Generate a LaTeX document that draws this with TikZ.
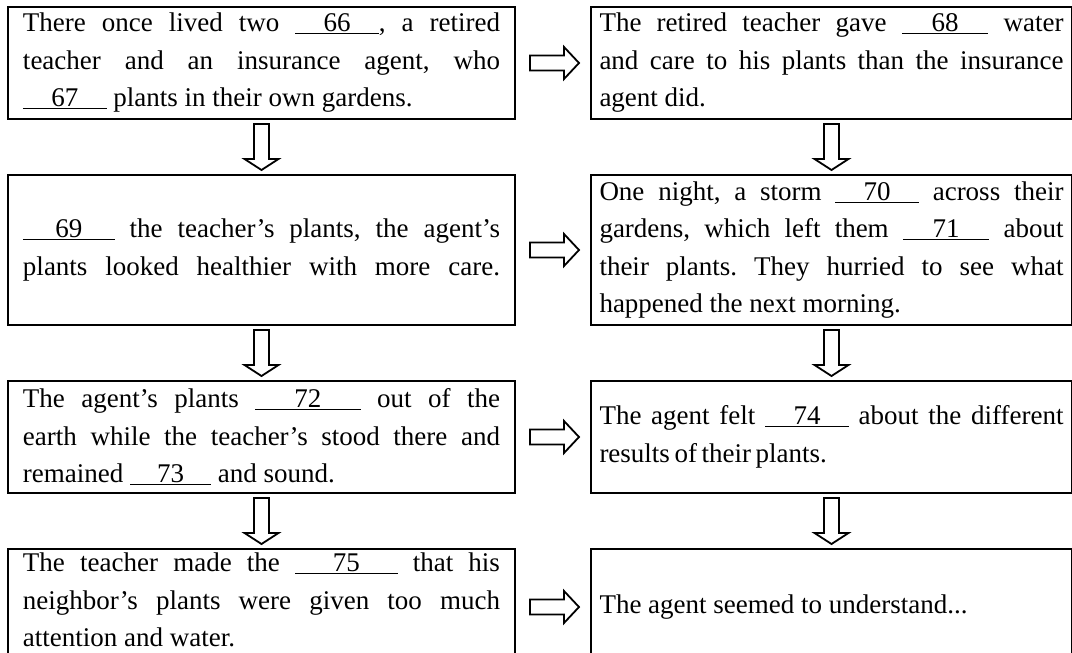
\documentclass[tikz,border=0pt]{standalone}
\usepackage{fontspec}
\setmainfont{Liberation Serif}
\usetikzlibrary{positioning,calc}
\newcommand{\storyfont}{\fontsize{27}{37.5}\selectfont\parindent=0pt\hyphenpenalty=10000\frenchspacing\relax}
\newcommand{\blankno}[2][3.1em]{\underline{\makebox[#1]{#2}}}

\begin{document}
\begin{tikzpicture}[
    node distance=54pt and 74pt,
    lbox/.style={rectangle, draw=black, line width=2pt, align=justify, text width=477pt, inner xsep=15pt, font=\storyfont},
    rbox/.style={rectangle, draw=black, line width=2pt, align=justify, text width=464pt, inner xsep=8.5pt, font=\storyfont},
    downarr/.style={draw, line width=1.8pt, to path={let \p1=(\tikztostart.south), \p2=(\tikztotarget.north) in
        (\x1-7.5pt,\y1-4pt) -- (\x1-7.5pt,\y2+15pt) -- (\x1-17pt,\y2+15pt) -- (\x1,\y2+4pt)
        -- (\x1+17pt,\y2+15pt) -- (\x1+7.5pt,\y2+15pt) -- (\x1+7.5pt,\y1-4pt) -- cycle}},
    rightarr/.style={draw, line width=1.8pt, to path={let \p1=(\tikztostart.east), \p2=(\tikztotarget.west) in
        (\x1+14pt,\y1+7.5pt) -- (\x2-26pt,\y1+7.5pt) -- (\x2-26pt,\y1+16pt) -- (\x2-11pt,\y1)
        -- (\x2-26pt,\y1-16pt) -- (\x2-26pt,\y1-7.5pt) -- (\x1+14pt,\y1-7.5pt) -- cycle}}
]
\useasboundingbox (0,0) rectangle (1072pt,-653pt);

\node[lbox, minimum height=112pt, anchor=north west] (intro) at (7pt,-6pt) {There once lived two \blankno{66}, a retired\linebreak teacher and an insurance agent, who\linebreak \blankno{67} plants in their own gardens.};
\node[rbox, minimum height=112pt, right=of intro] (water) {The retired teacher gave \blankno[3.2em]{68} water\linebreak and care to his plants than the insurance\linebreak agent did.};
\node[lbox, minimum height=150pt, below=of intro] (care) {\blankno[3.4em]{69} the teacher's plants, the agent's\linebreak \makebox[\linewidth][s]{plants looked healthier with more care.}};
\node[rbox, minimum height=150pt, right=of care] (storm) {One night, a storm \blankno{70} across their\linebreak gardens, which left them \blankno[3.2em]{71} about\linebreak their plants. They hurried to see what\linebreak happened the next morning.};
\node[lbox, minimum height=112pt, below=of care] (earth) {The agent's plants \blankno[3.9em]{72} out of the\linebreak earth while the teacher's stood there and\linebreak remained \blankno[3em]{73} and sound.};
\node[rbox, minimum height=112pt, right=of earth] (result) {The agent felt \blankno{74} about the different\linebreak {\spaceskip=0.17em results of their plants.}};
\node[lbox, minimum height=116pt, inner ysep=0pt, below=of earth] (remark) {The teacher made the \blankno[3.8em]{75} that his\linebreak neighbor's plants were given too much\linebreak attention and water.\rule[-14pt]{0pt}{14pt}};
\node[rbox, minimum height=116pt, right=of remark] (ending) {The agent seemed to understand...};

\draw[rightarr] (intro) to (water);
\draw[downarr] (intro) to (care);
\draw[downarr] (water) to (storm);
\draw[rightarr] (care) to (storm);
\draw[downarr] (care) to (earth);
\draw[downarr] (storm) to (result);
\draw[rightarr] (earth) to (result);
\draw[downarr] (earth) to (remark);
\draw[downarr] (result) to (ending);
\draw[rightarr] (remark) to (ending);
\end{tikzpicture}
\end{document}
